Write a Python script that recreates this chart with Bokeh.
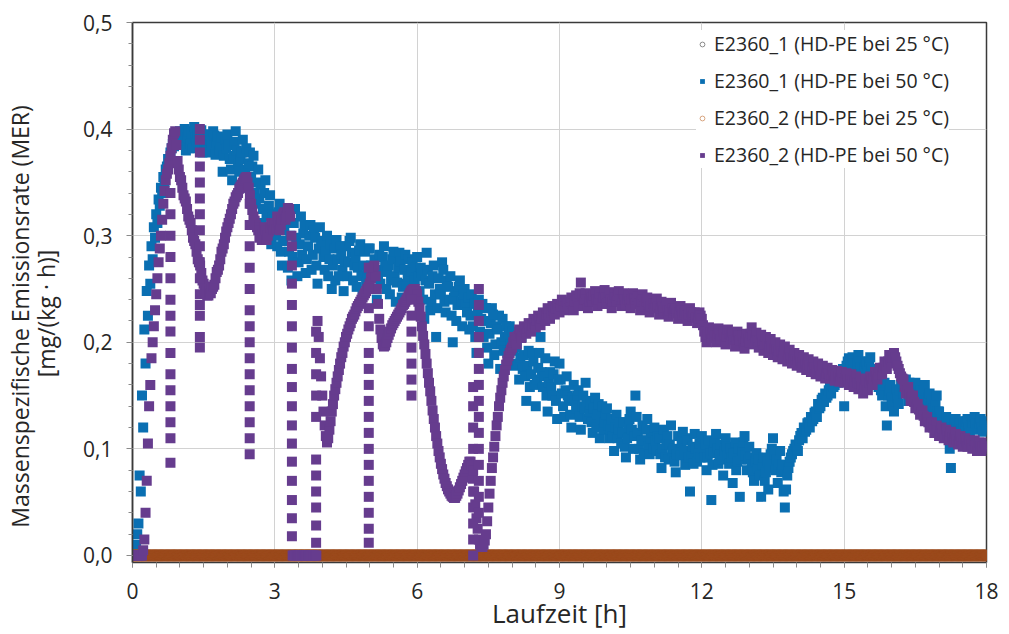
from bokeh.plotting import figure
from bokeh.models import (ColumnDataSource, Range1d, FixedTicker, CustomJSTickFormatter,
                          Legend, LegendItem)
from bokeh.embed import file_html
from bokeh.resources import INLINE

# sampling grid in hours (every 1.5 minutes)
laufzeit = [round(0.025 * i, 3) for i in range(721)]

# E2360_1, HD-PE at 50 °C, MER in mg/(kg*h), one row per hour
e2360_1_50 = [
    0.000, 0.000, 0.000, 0.010, 0.020, 0.030, 0.075, 0.060, 0.150, 0.120, 0.212, 0.180, 0.248, 0.225, 0.272, 0.255, 0.290, 0.278, 0.308, 0.298, 0.320, 0.312, 0.334, 0.328, 0.345, 0.340, 0.355, 0.350, 0.362, 0.365, 0.372, 0.370, 0.378, 0.382, 0.386, 0.384, 0.390, 0.395, 0.396, 0.392,
    0.398, 0.390, 0.385, 0.394, 0.400, 0.380, 0.392, 0.398, 0.382, 0.386, 0.396, 0.382, 0.402, 0.392, 0.388, 0.396, 0.384, 0.388, 0.399, 0.378, 0.392, 0.384, 0.380, 0.395, 0.395, 0.378, 0.389, 0.385, 0.398, 0.394, 0.376, 0.387, 0.393, 0.380, 0.385, 0.392, 0.360, 0.375, 0.390, 0.382,
    0.395, 0.385, 0.372, 0.362, 0.352, 0.375, 0.388, 0.398, 0.380, 0.368, 0.360, 0.372, 0.378, 0.390, 0.345, 0.362, 0.382, 0.355, 0.368, 0.378, 0.355, 0.365, 0.375, 0.340, 0.330, 0.350, 0.362, 0.335, 0.348, 0.312, 0.325, 0.340, 0.352, 0.318, 0.300, 0.328, 0.338, 0.292, 0.320, 0.305,
    0.315, 0.300, 0.290, 0.322, 0.330, 0.285, 0.272, 0.295, 0.305, 0.312, 0.322, 0.270, 0.285, 0.300, 0.258, 0.280, 0.312, 0.325, 0.298, 0.262, 0.275, 0.292, 0.318, 0.282, 0.302, 0.310, 0.265, 0.278, 0.290, 0.300, 0.310, 0.268, 0.282, 0.305, 0.298, 0.272, 0.255, 0.288, 0.308, 0.295,
    0.292, 0.280, 0.268, 0.285, 0.300, 0.262, 0.278, 0.292, 0.250, 0.272, 0.288, 0.258, 0.296, 0.278, 0.262, 0.290, 0.282, 0.268, 0.248, 0.276, 0.290, 0.262, 0.275, 0.295, 0.298, 0.284, 0.258, 0.272, 0.280, 0.252, 0.270, 0.286, 0.292, 0.262, 0.245, 0.272, 0.285, 0.256, 0.265, 0.288,
    0.288, 0.272, 0.262, 0.250, 0.278, 0.265, 0.240, 0.260, 0.282, 0.255, 0.268, 0.280, 0.290, 0.272, 0.250, 0.266, 0.272, 0.245, 0.258, 0.278, 0.285, 0.262, 0.238, 0.256, 0.270, 0.284, 0.276, 0.242, 0.252, 0.268, 0.282, 0.255, 0.262, 0.278, 0.244, 0.266, 0.275, 0.250, 0.258, 0.270,
    0.280, 0.262, 0.248, 0.270, 0.265, 0.240, 0.222, 0.258, 0.284, 0.268, 0.255, 0.230, 0.238, 0.262, 0.272, 0.245, 0.205, 0.232, 0.260, 0.250, 0.245, 0.275, 0.268, 0.238, 0.228, 0.258, 0.252, 0.240, 0.262, 0.225, 0.200, 0.242, 0.248, 0.220, 0.235, 0.252, 0.258, 0.238, 0.215, 0.245,
    0.250, 0.235, 0.228, 0.242, 0.212, 0.225, 0.245, 0.215, 0.236, 0.205, 0.190, 0.228, 0.240, 0.210, 0.222, 0.236, 0.205, 0.220, 0.232, 0.195, 0.180, 0.208, 0.218, 0.232, 0.226, 0.188, 0.198, 0.215, 0.212, 0.225, 0.175, 0.200, 0.222, 0.192, 0.205, 0.215, 0.190, 0.208, 0.215, 0.198,
    0.210, 0.192, 0.178, 0.200, 0.195, 0.180, 0.165, 0.186, 0.205, 0.175, 0.188, 0.168, 0.145, 0.178, 0.192, 0.158, 0.170, 0.190, 0.182, 0.160, 0.140, 0.165, 0.176, 0.190, 0.205, 0.172, 0.158, 0.168, 0.185, 0.150, 0.135, 0.162, 0.172, 0.158, 0.150, 0.170, 0.182, 0.145, 0.128, 0.165,
    0.180, 0.165, 0.152, 0.140, 0.130, 0.155, 0.168, 0.150, 0.145, 0.132, 0.120, 0.148, 0.160, 0.145, 0.138, 0.150, 0.155, 0.130, 0.118, 0.140, 0.150, 0.138, 0.162, 0.145, 0.128, 0.135, 0.142, 0.125, 0.115, 0.138, 0.148, 0.120, 0.132, 0.142, 0.110, 0.128, 0.140, 0.118, 0.125, 0.132,
    0.138, 0.122, 0.110, 0.118, 0.128, 0.112, 0.098, 0.120, 0.132, 0.110, 0.118, 0.125, 0.105, 0.115, 0.125, 0.102, 0.092, 0.110, 0.120, 0.128, 0.135, 0.118, 0.100, 0.112, 0.150, 0.130, 0.115, 0.100, 0.090, 0.108, 0.122, 0.096, 0.108, 0.118, 0.128, 0.102, 0.095, 0.110, 0.115, 0.100,
    0.120, 0.108, 0.098, 0.112, 0.110, 0.095, 0.082, 0.100, 0.118, 0.092, 0.104, 0.112, 0.090, 0.104, 0.122, 0.098, 0.100, 0.088, 0.078, 0.095, 0.112, 0.100, 0.094, 0.106, 0.116, 0.098, 0.085, 0.110, 0.108, 0.092, 0.060, 0.095, 0.102, 0.086, 0.114, 0.100, 0.088, 0.096, 0.105, 0.092,
    0.112, 0.100, 0.092, 0.104, 0.080, 0.092, 0.108, 0.096, 0.052, 0.085, 0.098, 0.106, 0.114, 0.100, 0.086, 0.095, 0.104, 0.090, 0.075, 0.098, 0.110, 0.102, 0.094, 0.086, 0.100, 0.092, 0.068, 0.096, 0.106, 0.080, 0.088, 0.100, 0.055, 0.090, 0.098, 0.106, 0.112, 0.094, 0.080, 0.090,
    0.102, 0.092, 0.085, 0.078, 0.070, 0.088, 0.096, 0.082, 0.090, 0.075, 0.055, 0.085, 0.092, 0.070, 0.078, 0.088, 0.062, 0.082, 0.095, 0.100, 0.110, 0.095, 0.080, 0.090, 0.068, 0.085, 0.098, 0.078, 0.085, 0.060, 0.045, 0.062, 0.075, 0.082, 0.088, 0.092, 0.095, 0.098, 0.100, 0.104,
    0.102, 0.098, 0.108, 0.112, 0.115, 0.110, 0.120, 0.116, 0.118, 0.124, 0.125, 0.120, 0.130, 0.126, 0.128, 0.134, 0.135, 0.130, 0.142, 0.138, 0.140, 0.146, 0.148, 0.144, 0.152, 0.148, 0.150, 0.155, 0.158, 0.152, 0.162, 0.158, 0.160, 0.165, 0.168, 0.162, 0.165, 0.170, 0.172, 0.175,
    0.140, 0.172, 0.178, 0.182, 0.185, 0.176, 0.172, 0.186, 0.180, 0.172, 0.168, 0.180, 0.188, 0.182, 0.176, 0.170, 0.165, 0.176, 0.182, 0.180, 0.174, 0.182, 0.186, 0.175, 0.170, 0.168, 0.160, 0.170, 0.175, 0.158, 0.165, 0.155, 0.150, 0.160, 0.162, 0.140, 0.122, 0.150, 0.155, 0.160,
    0.148, 0.142, 0.135, 0.150, 0.156, 0.148, 0.142, 0.155, 0.160, 0.158, 0.152, 0.160, 0.165, 0.155, 0.145, 0.162, 0.158, 0.150, 0.150, 0.158, 0.162, 0.152, 0.140, 0.150, 0.155, 0.145, 0.148, 0.155, 0.160, 0.145, 0.138, 0.148, 0.152, 0.140, 0.145, 0.138, 0.132, 0.142, 0.150, 0.135,
    0.135, 0.130, 0.128, 0.125, 0.122, 0.128, 0.130, 0.120, 0.126, 0.100, 0.082, 0.118, 0.120, 0.124, 0.128, 0.120, 0.118, 0.126, 0.124, 0.118, 0.116, 0.124, 0.122, 0.126, 0.128, 0.120, 0.115, 0.122, 0.125, 0.128, 0.130, 0.124, 0.118, 0.120, 0.124, 0.128, 0.120, 0.116, 0.126, 0.122,
    0.118,
]

# E2360_2, HD-PE at 50 °C
e2360_2_50 = [
    0.000, 0.000, 0.000, 0.000, 0.000, 0.000, 0.000, 0.000, 0.000, 0.005, 0.015, 0.040, 0.070, 0.105, 0.140, 0.160, 0.185, 0.200, 0.215, 0.230, 0.245, 0.260, 0.275, 0.288, 0.300, 0.315, 0.330, 0.342, 0.352, 0.358, 0.362, 0.368, 0.375, 0.382, 0.390, 0.396, 0.398, 0.385, 0.370, 0.362,
    0.355, 0.352, 0.345, 0.338, 0.335, 0.332, 0.325, 0.318, 0.315, 0.312, 0.305, 0.298, 0.295, 0.292, 0.285, 0.278, 0.275, 0.272, 0.265, 0.258, 0.255, 0.252, 0.248, 0.244, 0.244, 0.248, 0.246, 0.250, 0.252, 0.254, 0.260, 0.266, 0.268, 0.272, 0.278, 0.285, 0.288, 0.292, 0.298, 0.304,
    0.308, 0.312, 0.316, 0.320, 0.325, 0.330, 0.332, 0.336, 0.338, 0.340, 0.344, 0.346, 0.348, 0.350, 0.352, 0.354, 0.355, 0.350, 0.345, 0.338, 0.330, 0.324, 0.318, 0.314, 0.310, 0.308, 0.305, 0.298, 0.300, 0.296, 0.302, 0.308, 0.305, 0.296, 0.300, 0.304, 0.308, 0.312, 0.310, 0.306,
    0.312, 0.306, 0.318, 0.312, 0.305, 0.310, 0.315, 0.320, 0.322, 0.315, 0.318, 0.326, 0.325, 0.318, 0.300, 0.000, 0.000, 0.000, 0.000, 0.000, 0.000, 0.000, 0.000, 0.000, 0.000, 0.000, 0.000, 0.000, 0.000, 0.000, 0.000, 0.000, 0.000, 0.000, 0.000, 0.000, 0.220, 0.205, 0.185, 0.168,
    0.150, 0.135, 0.122, 0.112, 0.106, 0.110, 0.118, 0.126, 0.135, 0.142, 0.150, 0.156, 0.162, 0.168, 0.174, 0.180, 0.186, 0.190, 0.196, 0.200, 0.205, 0.208, 0.212, 0.215, 0.218, 0.222, 0.224, 0.226, 0.229, 0.232, 0.234, 0.236, 0.238, 0.240, 0.242, 0.244, 0.246, 0.248, 0.250, 0.252,
    0.255, 0.260, 0.265, 0.270, 0.272, 0.262, 0.250, 0.236, 0.222, 0.212, 0.204, 0.198, 0.196, 0.197, 0.200, 0.204, 0.207, 0.210, 0.213, 0.216, 0.218, 0.220, 0.222, 0.224, 0.226, 0.228, 0.230, 0.232, 0.235, 0.236, 0.238, 0.240, 0.242, 0.244, 0.246, 0.248, 0.249, 0.250, 0.250, 0.248,
    0.245, 0.238, 0.232, 0.224, 0.215, 0.206, 0.198, 0.189, 0.180, 0.171, 0.162, 0.154, 0.145, 0.136, 0.128, 0.120, 0.112, 0.105, 0.098, 0.092, 0.086, 0.081, 0.076, 0.072, 0.068, 0.065, 0.062, 0.060, 0.058, 0.056, 0.055, 0.054, 0.054, 0.056, 0.058, 0.061, 0.064, 0.067, 0.070, 0.073,
    0.076, 0.079, 0.082, 0.085, 0.088, 0.088, 0.084, 0.072, 0.060, 0.048, 0.035, 0.025, 0.015, 0.010, 0.008, 0.008, 0.010, 0.014, 0.020, 0.032, 0.045, 0.058, 0.070, 0.082, 0.092, 0.102, 0.112, 0.122, 0.130, 0.140, 0.148, 0.155, 0.162, 0.168, 0.174, 0.179, 0.183, 0.187, 0.190, 0.193,
    0.195, 0.200, 0.205, 0.202, 0.198, 0.206, 0.212, 0.208, 0.204, 0.210, 0.215, 0.212, 0.208, 0.213, 0.218, 0.214, 0.210, 0.216, 0.222, 0.218, 0.214, 0.220, 0.225, 0.221, 0.216, 0.222, 0.228, 0.224, 0.220, 0.226, 0.232, 0.227, 0.222, 0.228, 0.234, 0.230, 0.226, 0.232, 0.236, 0.232,
    0.228, 0.234, 0.240, 0.236, 0.230, 0.234, 0.238, 0.236, 0.232, 0.238, 0.242, 0.236, 0.230, 0.238, 0.244, 0.240, 0.234, 0.246, 0.256, 0.244, 0.236, 0.240, 0.246, 0.240, 0.232, 0.238, 0.245, 0.242, 0.238, 0.244, 0.248, 0.240, 0.234, 0.240, 0.246, 0.242, 0.236, 0.242, 0.249, 0.242,
    0.236, 0.242, 0.247, 0.240, 0.232, 0.238, 0.245, 0.242, 0.238, 0.244, 0.248, 0.240, 0.234, 0.240, 0.246, 0.240, 0.235, 0.240, 0.244, 0.238, 0.232, 0.240, 0.246, 0.241, 0.236, 0.240, 0.243, 0.236, 0.230, 0.238, 0.245, 0.240, 0.234, 0.238, 0.242, 0.235, 0.228, 0.234, 0.240, 0.236,
    0.232, 0.236, 0.241, 0.234, 0.226, 0.232, 0.238, 0.234, 0.230, 0.233, 0.236, 0.230, 0.224, 0.230, 0.237, 0.232, 0.228, 0.230, 0.232, 0.227, 0.222, 0.228, 0.234, 0.230, 0.226, 0.228, 0.230, 0.225, 0.220, 0.226, 0.232, 0.228, 0.224, 0.226, 0.228, 0.223, 0.218, 0.222, 0.228, 0.225,
    0.222, 0.216, 0.210, 0.205, 0.200, 0.207, 0.214, 0.209, 0.204, 0.208, 0.212, 0.206, 0.200, 0.206, 0.213, 0.208, 0.203, 0.206, 0.210, 0.204, 0.198, 0.205, 0.212, 0.208, 0.204, 0.206, 0.209, 0.202, 0.196, 0.203, 0.210, 0.206, 0.202, 0.204, 0.206, 0.200, 0.194, 0.201, 0.208, 0.204,
    0.200, 0.208, 0.214, 0.206, 0.198, 0.204, 0.209, 0.202, 0.195, 0.201, 0.207, 0.200, 0.192, 0.198, 0.205, 0.198, 0.190, 0.196, 0.203, 0.196, 0.188, 0.194, 0.200, 0.193, 0.186, 0.192, 0.198, 0.191, 0.184, 0.190, 0.196, 0.189, 0.182, 0.188, 0.193, 0.186, 0.180, 0.185, 0.190, 0.184,
    0.178, 0.183, 0.188, 0.182, 0.176, 0.181, 0.186, 0.180, 0.174, 0.179, 0.184, 0.178, 0.172, 0.177, 0.182, 0.176, 0.170, 0.175, 0.180, 0.174, 0.168, 0.173, 0.178, 0.172, 0.166, 0.171, 0.176, 0.171, 0.166, 0.170, 0.174, 0.169, 0.164, 0.168, 0.173, 0.168, 0.163, 0.167, 0.172, 0.167,
    0.162, 0.166, 0.171, 0.165, 0.160, 0.165, 0.170, 0.164, 0.158, 0.163, 0.168, 0.162, 0.156, 0.161, 0.166, 0.159, 0.152, 0.158, 0.165, 0.160, 0.155, 0.162, 0.168, 0.164, 0.160, 0.166, 0.172, 0.168, 0.165, 0.170, 0.176, 0.173, 0.170, 0.176, 0.182, 0.178, 0.175, 0.182, 0.188, 0.184,
    0.180, 0.186, 0.190, 0.186, 0.182, 0.178, 0.175, 0.171, 0.168, 0.166, 0.165, 0.158, 0.152, 0.155, 0.158, 0.151, 0.145, 0.148, 0.150, 0.144, 0.138, 0.140, 0.142, 0.137, 0.132, 0.134, 0.136, 0.131, 0.126, 0.128, 0.130, 0.125, 0.120, 0.122, 0.125, 0.120, 0.115, 0.118, 0.122, 0.117,
    0.112, 0.116, 0.120, 0.115, 0.110, 0.114, 0.118, 0.113, 0.108, 0.112, 0.116, 0.111, 0.106, 0.110, 0.114, 0.109, 0.104, 0.108, 0.112, 0.107, 0.102, 0.106, 0.110, 0.106, 0.102, 0.105, 0.108, 0.104, 0.100, 0.104, 0.108, 0.103, 0.098, 0.102, 0.106, 0.102, 0.098, 0.102, 0.106, 0.103,
    0.100,
]

# short sensor dropouts of E2360_2 at 50 °C: (time in h, readings)
e2360_2_50_dropouts = [
    (0.80, [0.340, 0.320, 0.300, 0.280, 0.260, 0.240, 0.225, 0.210, 0.190, 0.170, 0.155, 0.140, 0.125, 0.110, 0.087]),
    (1.42, [0.400, 0.390, 0.378, 0.365, 0.350, 0.335, 0.320, 0.305, 0.290, 0.275, 0.260, 0.245, 0.235, 0.225, 0.205, 0.195]),
    (2.47, [0.330, 0.310, 0.290, 0.270, 0.250, 0.230, 0.215, 0.200, 0.185, 0.170, 0.155, 0.140, 0.125, 0.110, 0.095]),
    (3.36, [0.290, 0.272, 0.255, 0.235, 0.215, 0.195, 0.175, 0.158, 0.140, 0.122, 0.105, 0.088, 0.070, 0.052, 0.035, 0.018]),
    (3.87, [0.012, 0.028, 0.045, 0.060, 0.075, 0.090, 0.130, 0.150, 0.170, 0.190, 0.210]),
    (4.98, [0.270, 0.250, 0.232, 0.215, 0.190, 0.175, 0.160, 0.145, 0.130, 0.115, 0.100, 0.085, 0.070, 0.055, 0.040, 0.025, 0.012]),
    (5.88, [0.240, 0.225, 0.210, 0.195, 0.180, 0.165, 0.150]),
    (7.18, [0.158, 0.140, 0.120, 0.100, 0.080, 0.060, 0.045, 0.030, 0.015, 0.000]),
    (7.30, [0.250, 0.235, 0.220, 0.205, 0.190, 0.175, 0.160, 0.145, 0.130, 0.115, 0.100, 0.085, 0.070, 0.055, 0.040]),
]

# both samples at 25 °C stay at zero over the whole run
e2360_1_25 = [0.0] * len(laufzeit)
e2360_2_25 = [0.0] * len(laufzeit)

labels = [
    "E2360_1 (HD-PE bei 25 °C)",
    "E2360_1 (HD-PE bei 50 °C)",
    "E2360_2 (HD-PE bei 25 °C)",
    "E2360_2 (HD-PE bei 50 °C)",
]
x_title = "Laufzeit [h]"
y_title = ["Massenspezifische Emissionsrate  (MER)", "[mg/(kg · h)]"]

x_ticks = [0, 3, 6, 9, 12, 15, 18]
y_ticks = [0.0, 0.1, 0.2, 0.3, 0.4, 0.5]

assert len(e2360_1_50) == len(laufzeit) and len(e2360_2_50) == len(laufzeit)

FONT = "Open Sans"
TXT = "#262626"
BLUE = "#0a6fb2"
PURPLE = "#663c8e"
BROWN = "#9b4a1c"
GREY = "#8a8a8a"
TAN = "#d8a47e"

p = figure(width=1009, height=634, output_backend="svg", toolbar_location=None,
           x_range=Range1d(0, 18), y_range=Range1d(-0.0066, 0.5),
           min_border_left=130, min_border_right=23, min_border_top=22, min_border_bottom=72)
p.background_fill_color = "white"
p.border_fill_color = "white"
p.outline_line_color = "#3a3a3a"
p.outline_line_width = 1.5

# series drawn in the order of the legend
src_1_25 = ColumnDataSource(dict(t=laufzeit, v=e2360_1_25))
src_1_50 = ColumnDataSource(dict(t=laufzeit, v=e2360_1_50))
src_2_25 = ColumnDataSource(dict(t=laufzeit, v=e2360_2_25))
t2 = list(laufzeit)
v2 = list(e2360_2_50)
for t, vals in e2360_2_50_dropouts:
    t2 += [t] * len(vals)
    v2 += vals
src_2_50 = ColumnDataSource(dict(t=t2, v=v2))

p.scatter("t", "v", source=src_1_25, marker="circle", size=10,
          fill_color=GREY, line_color=GREY)
p.scatter("t", "v", source=src_1_50, marker="square", size=10,
          fill_color=BLUE, line_color=None)
p.scatter("t", "v", source=src_2_25, marker="circle", size=11,
          fill_color=BROWN, line_color=BROWN)
p.scatter("t", "v", source=src_2_50, marker="square", size=10,
          fill_color=PURPLE, line_color=None)

# small legend glyphs (kept outside the visible range)
off = dict(t=[-10.0], v=[-10.0])
lg1 = p.scatter("t", "v", source=ColumnDataSource(off), marker="circle", size=7,
                fill_color=None, line_color=GREY, line_width=1)
lg2 = p.scatter("t", "v", source=ColumnDataSource(off), marker="square", size=7,
                fill_color=BLUE, line_color=None)
lg3 = p.scatter("t", "v", source=ColumnDataSource(off), marker="circle", size=7,
                fill_color=None, line_color=TAN, line_width=1)
lg4 = p.scatter("t", "v", source=ColumnDataSource(off), marker="square", size=7,
                fill_color=PURPLE, line_color=None)

legend = Legend(
    items=[LegendItem(label=lab, renderers=[r]) for lab, r in zip(labels, [lg1, lg2, lg3, lg4])],
    location=(564, 394), background_fill_color="white", background_fill_alpha=1.0,
    border_line_color=None, label_text_font=FONT, label_text_font_size="19.5px",
    label_text_color=TXT, glyph_width=12, glyph_height=20, label_height=20,
    spacing=10, padding=4, margin=0, label_standoff=6,
)
p.add_layout(legend)

# axes
p.xaxis.ticker = FixedTicker(ticks=x_ticks, minor_ticks=[i * 0.5 for i in range(37)])
p.yaxis.ticker = FixedTicker(ticks=y_ticks, minor_ticks=[i * 0.02 for i in range(26)])
p.yaxis.formatter = CustomJSTickFormatter(code="return tick.toFixed(1).replace('.', ',');")
p.xaxis.formatter = CustomJSTickFormatter(code="return tick.toFixed(0);")

for ax in (p.xaxis[0], p.yaxis[0]):
    ax.major_label_text_font = FONT
    ax.major_label_text_font_size = "21px"
    ax.major_label_text_color = TXT
    ax.axis_label_text_font = FONT
    ax.axis_label_text_color = TXT
    ax.axis_label_text_font_style = "normal"
    ax.major_tick_line_color = "#8a8a8a"
    ax.minor_tick_line_color = "#8a8a8a"
    ax.major_tick_in = 0
    ax.minor_tick_in = 0

# trailing no-break spaces move the rotated title a little below the frame centre
pad = "\u00a0" * 7
p.xaxis.axis_label = x_title
p.yaxis.axis_label = y_title[0] + pad + "\n" + y_title[1] + pad
p.xaxis.axis_label_text_font_size = "26px"
p.yaxis.axis_label_text_font_size = "23px"
p.yaxis.axis_label_text_line_height = 0.82

p.xaxis.axis_line_color = None
p.yaxis.axis_line_color = "#3a3a3a"
p.yaxis.axis_line_width = 1.5
p.xaxis.major_tick_out = 5
p.xaxis.minor_tick_out = 5
p.yaxis.major_tick_out = 6
p.yaxis.minor_tick_out = 4
p.xaxis.major_label_standoff = 15
p.yaxis.major_label_standoff = 14
p.xaxis.axis_label_standoff = -7
p.yaxis.axis_label_standoff = 18

p.xgrid.ticker = FixedTicker(ticks=x_ticks[1:-1])
p.ygrid.ticker = FixedTicker(ticks=y_ticks[1:])
p.xgrid.grid_line_color = "#d2d2d2"
p.ygrid.grid_line_color = "#d2d2d2"
p.xgrid.grid_line_width = 1
p.ygrid.grid_line_width = 1

open("out.html", "w").write(file_html(p, INLINE))
